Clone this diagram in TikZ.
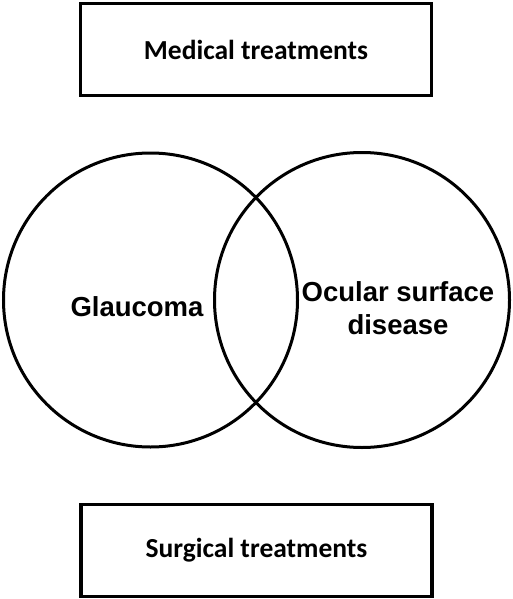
\documentclass[tikz,border=0pt]{standalone}
\usepackage{fontspec}
\newfontfamily\boxfont{Carlito}
\newfontfamily\vennfont{Liberation Sans}
\usepackage{tikz}
\usetikzlibrary{positioning}

\begin{document}
\begin{tikzpicture}[
    x=1pt, y=-1pt,
    treat/.style={rectangle, draw, line width=3.2pt, inner sep=0pt, minimum width=351pt, minimum height=92pt, font=\boxfont\bfseries\fontsize{27.5}{32}\selectfont},
    set/.style={circle, draw, line width=3pt, inner sep=0pt},
    label/.style={font=\vennfont\bfseries\fontsize{27.5}{33}\selectfont, align=center, inner sep=0pt}
]
\useasboundingbox (0,0) rectangle (512,599);

% Treatment boxes
\node[treat] (medical) at (256, 49.5) {Medical treatments};
\node[treat] (surgical) at (256.5, 550.5) {Surgical treatments};

% Venn circles
\node[set, minimum size=294pt] (glaucoma) at (150.5, 300) {};
\node[set, minimum size=295pt] (osd) at (362, 300) {};

% Labels
\node[label] (glab) at (137, 307) {Glaucoma};
\node[label] (olab) at (398, 308) {Ocular surface\\disease};

\end{tikzpicture}
\end{document}
